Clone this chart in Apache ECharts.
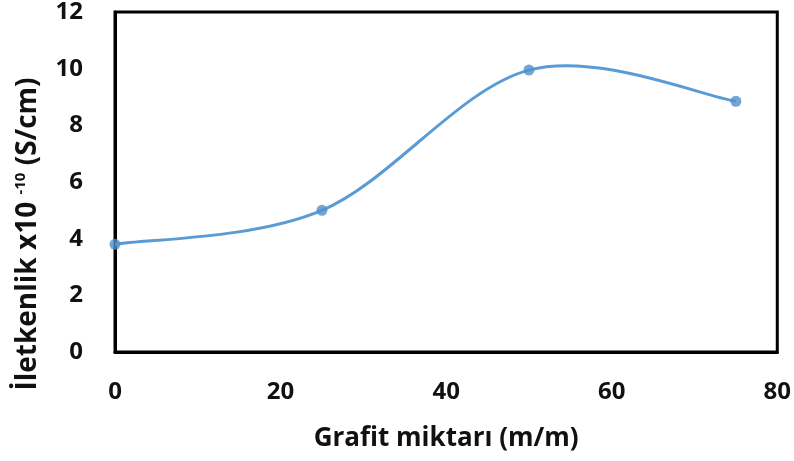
<!DOCTYPE html>
<html>
<head>
<meta charset="utf-8">
<script src="https://cdn.jsdelivr.net/npm/echarts@6/dist/echarts.min.js"></script>
<style>
html,body{margin:0;padding:0;background:#fff;}
#chart{width:794px;height:461px;}
</style>
</head>
<body>
<div id="chart"></div>
<script>
const xValues = [0, 25, 50, 75];
const yValues = [3.8, 5.0, 9.95, 8.85];
const xTicks = [0, 20, 40, 60, 80];
const yTicks = [0, 2, 4, 6, 8, 10, 12];
const xTitle = 'Grafit miktarı (m/m)';
const yTitleMain = 'İletkenlik x10 ';
const yTitleSup = '-10';
const yTitleEnd = ' (S/cm)';

const FONT = '"Open Sans", "Liberation Sans", sans-serif';
const LINE_COLOR = '#5B9BD5';
const T = 1 / 6;

function pt(api, j) {
  const k = Math.max(0, Math.min(xValues.length - 1, j));
  return api.coord([xValues[k], yValues[k]]);
}

const chart = echarts.init(document.getElementById('chart'));
chart.setOption({
  animation: false,
  backgroundColor: '#fff',
  grid: {left: 115, right: 15, top: 10, bottom: 109, show: true, borderColor: '#000', borderWidth: 3, containLabel: false},
  xAxis: {
    type: 'value', min: xTicks[0], max: xTicks[xTicks.length - 1], interval: 20,
    axisLine: {show: true, lineStyle: {color: '#000', width: 3}},
    axisTick: {show: false},
    splitLine: {show: false},
    axisLabel: {color: '#111', fontFamily: FONT, fontWeight: 'bold', fontSize: 24, margin: 28},
    name: xTitle, nameLocation: 'middle', nameGap: 74,
    nameTextStyle: {color: '#111', fontFamily: FONT, fontWeight: 'bold', fontSize: 26}
  },
  yAxis: {
    type: 'value', min: yTicks[0], max: yTicks[yTicks.length - 1], interval: 2,
    axisLine: {show: true, lineStyle: {color: '#000', width: 3}},
    axisTick: {show: false},
    splitLine: {show: false},
    axisLabel: {color: '#111', fontFamily: FONT, fontWeight: 'bold', fontSize: 24, margin: 32}
  },
  graphic: [{
    type: 'text',
    x: 28, y: 234,
    rotation: Math.PI / 2,
    style: {
      text: yTitleMain + '{sup|' + yTitleSup + '}' + yTitleEnd,
      font: 'bold 28px ' + FONT,
      fill: '#111',
      align: 'center',
      verticalAlign: 'middle',
      rich: {
        sup: {fontSize: 15, fontWeight: 'bold', fontFamily: FONT, fill: '#111', padding: [0, 0, 14, 0]}
      }
    }
  }],
  series: [{
    type: 'custom',
    data: xValues.slice(0, -1).map((x, i) => [x, yValues[i]]),
    renderItem: function (params, api) {
      const i = params.dataIndex;
      const p0 = pt(api, i - 1), p1 = pt(api, i), p2 = pt(api, i + 1), p3 = pt(api, i + 2);
      return {
        type: 'bezierCurve',
        shape: {
          x1: p1[0], y1: p1[1], x2: p2[0], y2: p2[1],
          cpx1: p1[0] + (p2[0] - p0[0]) * T, cpy1: p1[1] + (p2[1] - p0[1]) * T,
          cpx2: p2[0] - (p3[0] - p1[0]) * T, cpy2: p2[1] - (p3[1] - p1[1]) * T
        },
        style: {stroke: LINE_COLOR, lineWidth: 3, fill: null}
      };
    },
    z: 2
  }, {
    type: 'scatter',
    data: xValues.map((x, i) => [x, yValues[i]]),
    symbol: 'circle',
    symbolSize: 11,
    itemStyle: {color: '#5090CC'},
    z: 3
  }]
});
</script>
</body>
</html>
